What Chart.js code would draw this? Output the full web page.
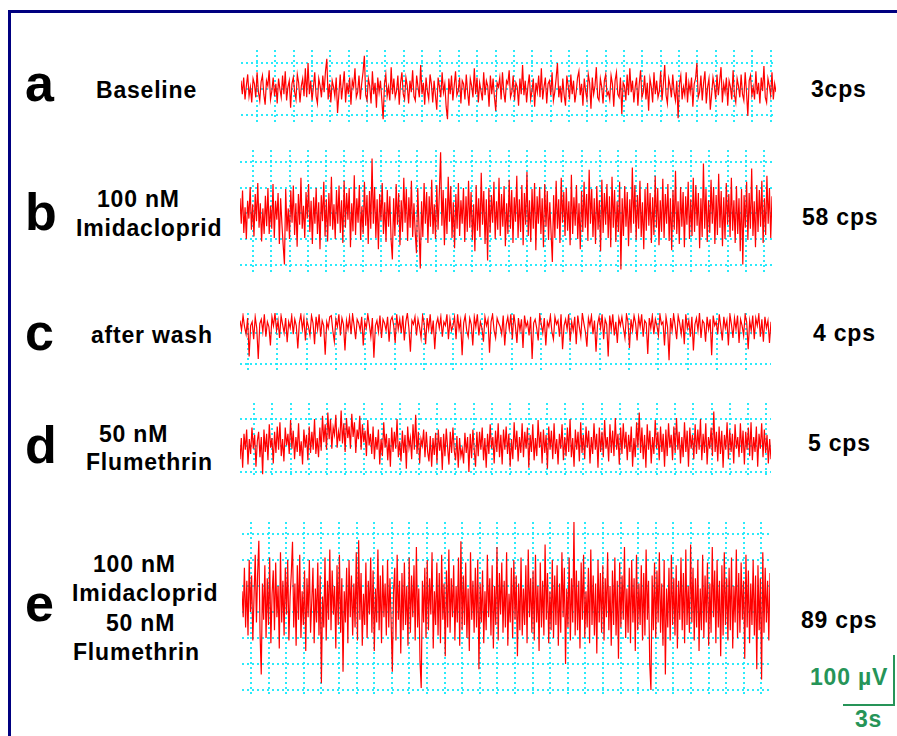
<!DOCTYPE html>
<html>
<head>
<meta charset="utf-8">
<script src="https://cdn.jsdelivr.net/npm/chart.js@4.4.1/dist/chart.umd.min.js"></script>
<style>
  html, body { margin:0; padding:0; background:#fff; }
  body { width:897px; height:736px; overflow:hidden; position:relative; font-family:"Liberation Sans", Arial, sans-serif; }
  .frame { position:absolute; left:8px; top:10px; width:1000px; height:1000px; border-left:3px solid #000080; border-top:3px solid #000080; }
  .t { position:absolute; white-space:nowrap; font-weight:bold; line-height:1; color:#000; }
  .lbl { font-size:23px; letter-spacing:0.8px; }
  .big { font-size:52px; }
  .green { color:rgb(38,148,88); }
  canvas { position:absolute; }
  .bar { position:absolute; background:rgb(38,148,88); }
</style>
</head>
<body>
<div class="frame"></div>
<script>
// ---- data (µV, relative to each panel's grid centre line) ----
const panelLetters = ["a", "b", "c", "d", "e"];
const panelLabels = [["Baseline"], ["100 nM", "Imidacloprid"], ["after wash"], ["50 nM", "Flumethrin"], ["100 nM", "Imidacloprid", "50 nM", "Flumethrin"]];
const panelRates = ["3cps", "58 cps", "4 cps", "5 cps", "89 cps"];
const scaleBarLabels = ["100 µV", "3s"];

const traceA = [16,-10,22,-20,6,28,-14,4,-26,20,10,-16,32,-6,-22,14,26,-10,-30,16,
 6,36,-20,-4,22,-14,10,-28,20,0,-16,26,-10,34,-22,4,16,-36,10,22,
 -6,-20,28,12,-26,6,20,-14,40,-16,50,-10,16,-22,4,32,-14,-28,20,6,
 -16,26,-6,34,58,-20,10,-26,16,4,-14,22,-46,-10,28,-20,6,34,-26,12,
 -10,22,-30,16,4,40,-16,-6,26,-20,10,32,64,-12,-22,20,6,-28,34,-10,
 12,-36,22,-6,16,-20,-58,10,28,-14,4,-22,42,-10,20,-16,-4,26,-30,12,
 32,-10,-20,22,6,-28,16,-6,36,-14,-22,26,4,-16,46,-10,12,-30,22,-4,
 -20,28,10,-26,16,-12,-40,22,4,-16,32,-6,10,-34,-58,20,-10,26,-22,6,
 34,-12,-4,22,-28,16,10,-20,28,-6,-32,20,6,-16,40,-10,22,-26,12,-4,
 -22,32,-12,16,6,-34,26,-10,20,-16,-42,12,4,22,-20,32,-6,-26,16,10,
 36,-16,-6,26,-22,12,4,-32,20,-10,46,-12,16,-26,6,28,-20,-4,20,-34,
 12,-6,26,-16,40,-20,4,22,-28,10,16,-12,32,-22,-6,20,50,-16,6,-26,
 20,-12,-32,26,6,-20,28,-10,16,-26,-6,22,34,-12,10,-32,20,-4,-20,28,
 12,-38,22,-10,6,42,-16,-22,20,4,-28,16,28,-12,-6,-20,26,10,-34,16,
 32,-10,-16,22,-48,12,6,-22,28,-12,40,-6,16,-26,4,22,-32,10,36,-16,
 -6,26,-20,12,-42,20,4,-26,32,-10,16,-16,-4,34,-22,10,46,-12,-28,20,
 6,-16,28,-6,-22,16,-56,10,26,-20,4,-12,32,-26,12,-6,22,-34,10,20,
 50,-16,-6,26,-22,12,34,-28,4,20,-40,-10,22,6,-20,28,-12,16,42,-26,
 10,-6,22,-32,16,4,-20,36,-12,-26,20,6,-16,28,-10,-22,32,-6,-52,16,
 26,-12,4,-20,34,-10,12,-28,22,-4,44,-16,-26,20,6,-12,32,-20,10,-6];

const traceB = [30,-20,45,-38,12,-50,25,-10,52,-32,18,-45,38,-15,60,-28,20,-55,10,-40,
 35,-25,50,-40,15,-30,58,-48,25,-12,40,-60,30,-20,-62,-100,48,-35,10,-50,
 45,-18,55,-42,20,-65,38,-22,70,-30,15,-48,42,-10,58,-36,25,-60,32,-20,
 50,-40,22,-70,36,-15,62,-45,28,-55,40,-25,72,-32,18,-50,46,-20,55,-38,
 26,-58,64,-28,40,-12,50,-66,20,-35,75,-42,30,-18,56,-52,14,-40,62,-24,
 36,-60,44,-30,108,-20,52,-48,28,-70,38,-14,60,-40,22,-56,46,-26,34,-52,
 -90,30,-44,58,-22,40,-62,26,-36,70,-18,48,-54,32,-28,64,-46,20,-38,-78,
 50,-30,-108,24,-46,60,-20,42,-58,34,-26,66,-40,18,-50,56,-32,40,120,-24,
 46,-62,30,-40,72,-16,54,-48,22,-68,38,-30,60,-44,26,-20,50,-56,34,-36,
 64,-28,42,-52,18,-74,56,-34,30,-46,80,-22,44,-60,28,-92,50,-38,36,-18,
 62,-50,24,-32,70,-44,38,-26,54,-64,20,-40,66,-30,46,-58,32,-16,74,-48,
 28,-36,56,-62,40,-22,82,-44,26,-56,48,-30,60,-72,34,-20,52,-40,30,-66,
 58,-26,44,-52,22,-38,-95,36,-48,64,-30,28,-58,70,-18,42,-44,50,-34,24,
 -62,76,-40,32,-24,56,-50,20,-70,44,-36,62,-28,38,-54,86,-20,48,-46,30,
 -60,54,-32,26,-74,66,-38,40,-22,58,-48,34,-66,72,-28,46,-56,24,-36,62,
 -110,30,-44,54,-26,42,-64,28,-38,90,-20,56,-52,36,-30,64,-46,22,-70,48,
 -34,60,-24,40,-58,32,-42,74,-28,50,-62,26,-36,68,-48,38,-20,58,-54,30,
 -72,46,-32,84,-40,24,-60,52,-26,42,-66,34,-22,62,-50,28,-44,70,-36,56,
 -24,40,-68,30,-46,98,-30,48,-56,26,-38,66,-20,52,-60,36,-42,78,-28,44,
 -64,32,-50,60,-22,38,-46,70,-34,26,-58,54,-40,30,-74,48,-100,36,-28,62,
 -52,40,-30,88,-44,24,-66,56,-36,46,-26,64,-58,30,-42,74,-20,50,-48,34];

const traceC = [20,5,28,10,-2,24,-38,12,18,-10,26,8,-42,15,22,2,30,-6,18,10,
 -20,26,12,32,4,20,-8,28,14,0,24,-15,18,8,28,-2,22,12,-25,16,
 30,6,24,-12,20,10,-4,28,16,-18,26,6,30,-6,20,12,-35,18,8,26,
 28,4,-14,22,10,30,-4,24,14,-28,20,6,26,-2,30,12,-10,22,16,4,
 26,-20,18,8,30,14,-6,24,-40,12,20,2,28,-8,22,16,4,26,-14,20,
 26,12,-16,30,6,22,0,28,-12,18,32,8,-30,20,14,26,-4,22,10,-8,
 28,16,-18,24,6,30,-2,20,-26,14,24,8,26,-6,18,12,30,-10,22,4,
 12,26,-10,30,6,20,-36,16,28,4,-6,24,14,-20,26,10,30,-4,18,8,
 -14,26,12,22,-32,18,30,4,-8,24,16,10,-2,28,-20,14,26,6,30,-10,
 30,12,-16,24,4,22,-24,28,10,18,-4,26,-42,16,22,8,-12,30,14,0,
 24,-20,18,10,28,2,-10,26,14,20,-6,30,-26,12,22,6,30,-14,18,4,
 26,-18,28,10,-6,32,16,2,-22,24,12,28,-2,20,-30,14,26,8,30,-10,
 22,14,-38,28,6,30,-4,18,-16,24,12,26,8,-8,30,18,-24,22,4,28,
 16,-12,26,10,30,-6,20,16,-34,24,8,28,-2,22,12,-4,30,14,18,-20,
 26,10,-44,24,4,30,12,-10,28,16,-2,22,-18,30,8,20,-6,26,-28,14,
 24,4,32,-8,20,16,-14,26,6,22,-36,28,12,18,-2,30,10,-12,26,8,
 20,-20,30,14,-8,24,6,28,-16,22,12,-4,30,18,-26,20,4,28,-10,24,
 12,30,-6,22,-14,26,8,20,-16,18];

const traceD = [-26,14,-42,22,-8,30,-36,12,-16,34,-6,20,-40,8,26,-22,16,-54,30,-12,
 22,-28,40,-4,14,-34,26,-14,36,-8,44,-20,12,-30,34,0,22,-16,48,-6,
 28,-26,16,-12,42,-20,8,-36,30,-4,20,-28,36,-14,26,-8,50,-16,14,-22,
 34,-10,56,6,40,-8,62,12,50,-6,34,20,58,-4,26,8,66,4,42,-12,
 52,14,36,-6,60,16,44,-14,30,12,56,-8,40,6,28,-20,48,0,22,-16,
 36,-26,16,-8,30,-36,12,-20,44,-4,22,-28,14,-40,34,-12,26,-6,50,-22,
 8,-30,28,-14,20,-44,36,-4,14,-26,40,-8,58,-16,26,-34,12,0,30,-22,
 26,-12,-30,18,-40,14,-18,24,-34,30,-10,16,-46,22,-20,32,-4,-36,26,-14,
 34,-10,-28,18,-42,14,-20,-6,-34,24,-14,16,-50,22,-24,30,-8,-40,26,-20,
 26,-8,34,-28,14,-42,22,-16,40,-6,16,-34,28,-12,42,-22,20,-36,30,-8,
 36,-16,22,-40,12,-26,44,-8,28,-30,16,-14,42,-22,26,-6,34,-42,20,-12,
 40,-28,14,-20,48,-4,26,-34,30,-14,20,-44,36,-8,28,-26,42,-16,12,-36,
 22,-6,40,-28,16,-20,34,-12,50,-22,14,-40,30,-8,26,-30,44,-14,20,-26,
 36,-4,28,-34,16,-16,42,-8,22,-42,34,-12,26,-22,48,-6,16,-30,40,-14,
 28,-20,52,-8,22,-36,34,-16,42,-6,26,-28,20,-12,36,-40,14,-22,44,-4,
 62,-14,34,-26,20,-42,40,-8,28,-34,16,-16,48,-6,26,-28,36,-12,22,-40,
 30,-20,42,-4,20,-28,36,-14,52,-8,26,-34,16,-22,44,-12,28,-40,34,-6,
 20,-26,40,-16,30,-8,50,-28,22,-14,42,-36,16,-6,34,-20,64,-12,26,-30,
 36,-16,28,-42,20,-8,44,-26,30,-12,22,-34,40,-6,16,-22,42,-14,28,-36,
 26,-8,34,-20,44,-28,16,-12,36,-40,22,-6,42,-22,30,-14,20,-34,12,-26];

const traceE = [40,-10,85,-30,60,-45,100,0,70,-55,30,110,-20,75,137,-40,-120,55,-15,90,
 -50,65,-25,105,-60,35,80,-35,95,-10,50,-70,115,-20,60,-45,85,-5,100,-55,
 30,75,135,-30,55,-65,90,-15,110,-50,40,-25,80,-75,65,-10,100,-40,20,85,
 -60,45,-20,95,-45,70,-137,30,-30,105,-55,60,-15,120,-35,80,-5,50,-70,90,
 -25,110,-40,65,-115,40,-20,85,-60,100,-10,70,-45,55,-30,115,-55,138,-15,75,
 -65,35,-25,95,-50,60,-5,105,-40,80,-75,45,-20,120,-35,70,-60,90,-10,55,
 -45,100,-30,65,-20,-115,40,85,-55,110,-15,60,-80,75,-35,95,-25,50,-65,105,
 -40,70,-10,90,-55,125,-30,45,-95,-146,60,-20,85,-50,100,-35,65,-5,115,-70,
 40,-25,95,-45,75,-60,110,-15,55,-85,80,-30,120,-40,65,-10,90,-55,50,-20,
 105,-65,136,-35,70,-25,95,-50,45,-75,115,-15,60,-40,85,-30,100,-110,55,-20,
 80,-60,40,-35,110,-10,65,-45,90,-70,50,-25,125,-55,75,-5,95,-40,60,-30,
 115,-65,35,-20,85,-50,100,-15,70,-85,55,-35,105,-45,45,-25,90,-60,120,-10,
 65,-40,80,-55,110,-20,50,-75,95,-30,60,-45,130,-15,75,-60,40,-35,100,-50,
 70,-25,90,-65,55,-40,115,-10,85,-100,45,-30,105,-55,65,-20,173,-45,80,-35,
 60,-70,95,-15,110,-50,40,-30,85,-60,120,-25,70,-45,55,-80,100,-20,75,-40,
 90,-55,65,-10,115,-35,50,-65,80,-25,105,-45,60,-90,95,-30,70,-15,125,-50,
 45,-40,85,-60,100,-20,65,-75,110,-35,55,-25,90,-55,75,-45,120,-15,60,-100,
 -150,70,-35,95,-50,80,-20,115,-40,55,-65,100,-120,45,-30,85,-55,110,-25,65,
 -45,90,-70,60,-15,105,-35,75,-60,120,-25,50,-40,130,-20,85,-55,65,-30,100,
 -75,45,-35,110,-50,70,-20,95,-65,55,-40,125,-10,80,-60,100,-30,60,-85,90,
 -45,115,-25,65,-55,85,-35,105,-70,50,-20,120,-50,75,-40,95,-15,60,-90,110,
 -30,80,-60,55,-25,100,-45,70,-110,90,-35,65,-130,115,-40,85,-20,60,-55,75];

const traces = [traceA, traceB, traceC, traceD, traceE];
const gridLevels = [[-50,0,50], [-100,-50,0,50,100], [-50,0], [-50,0,50], [-150,-100,-50,0,50,100,150]];

// ---- layout (pixels) ----
const layout = [
  {left:241, right:776, top:50,  bottom:123, cy:89,    ppu:0.52, vx0:257, vdx:18.35, letterBase:101, rateBase:97,  rateLeft:811,
   labels:[{l:96, b:98}]},
  {left:240, right:772, top:150, bottom:272, cy:213.5, ppu:0.51, vx0:253, vdx:18.25, letterBase:230, rateBase:225, rateLeft:802,
   labels:[{l:97, b:207},{l:76, b:236}]},
  {left:240, right:771, top:313, bottom:372, cy:333,   ppu:0.62, vx0:248, vdx:29.3,  letterBase:350, rateBase:341, rateLeft:813,
   labels:[{l:91, b:343}]},
  {left:240, right:771, top:403, bottom:478, cy:445.5, ppu:0.53, vx0:254, vdx:18.3,  letterBase:463, rateBase:451, rateLeft:808,
   labels:[{l:99, b:442},{l:86, b:470}]},
  {left:242, right:770, top:522, bottom:694, cy:612,   ppu:0.52, vx0:251, vdx:17.6,  letterBase:621, rateBase:628, rateLeft:801,
   labels:[{l:93, b:572},{l:72, b:601},{l:106, b:631},{l:73, b:660}]}
];

function addText(txt, cls, left, baseline, fs) {
  const d = document.createElement('div');
  d.className = 't ' + cls;
  d.textContent = txt;
  d.style.left = left + 'px';
  d.style.top = (baseline - 0.8465 * fs) + 'px';
  document.body.appendChild(d);
}

const gridColor = 'rgba(20,232,250,0.9)';

panelLetters.forEach((letter, i) => {
  const L = layout[i];
  const data = traces[i];
  const w = L.right - L.left, h = L.bottom - L.top;
  const cv = document.createElement('canvas');
  cv.width = w; cv.height = h;
  cv.style.left = L.left + 'px'; cv.style.top = L.top + 'px';
  cv.style.width = w + 'px'; cv.style.height = h + 'px';
  document.body.appendChild(cv);

  const n = data.length;
  const xTicks = [];
  for (let px = L.vx0 - L.left; px < w - 1; px += L.vdx) xTicks.push(px / w * (n - 1));

  new Chart(cv.getContext('2d'), {
    type: 'line',
    data: {
      labels: data.map((_, k) => k),
      datasets: [{
        data: data.map((v, k) => ({x:k, y:v})),
        borderColor: 'rgb(255,0,0)',
        borderWidth: 1.2,
        pointRadius: 0,
        tension: 0,
        fill: false
      }]
    },
    options: {
      responsive: false,
      animation: false,
      devicePixelRatio: 1,
      layout: { padding: 0 },
      plugins: { legend: { display:false }, tooltip: { enabled:false } },
      scales: {
        x: {
          type: 'linear', min: 0, max: n - 1,
          ticks: { display:false },
          grid: { color: gridColor, lineWidth: 2, drawTicks:false },
          border: { display:false, dash:[2,3] },
          afterBuildTicks: s => { s.ticks = xTicks.map(v => ({value:v})); }
        },
        y: {
          type: 'linear',
          min: -(L.bottom - L.cy) / L.ppu,
          max: (L.cy - L.top) / L.ppu,
          ticks: { display:false },
          grid: { color: gridColor, lineWidth: 2, drawTicks:false },
          border: { display:false, dash:[2,3] },
          afterBuildTicks: s => { s.ticks = gridLevels[i].map(v => ({value:v})); }
        }
      }
    }
  });

  addText(letter, 'big', 25, L.letterBase, 52);
  panelLabels[i].forEach((txt, j) => addText(txt, 'lbl', L.labels[j].l, L.labels[j].b, 23));
  addText(panelRates[i], 'lbl', L.rateLeft, L.rateBase, 23);
});

// scale bar
addText(scaleBarLabels[0], 'lbl green', 810, 685, 23);
addText(scaleBarLabels[1], 'lbl green', 855, 727, 23);
const vb = document.createElement('div'); vb.className = 'bar';
vb.style.cssText += 'left:893px;top:655px;width:2px;height:51px;';
document.body.appendChild(vb);
const hb = document.createElement('div'); hb.className = 'bar';
hb.style.cssText += 'left:843px;top:704px;width:52px;height:2px;';
document.body.appendChild(hb);
</script>
</body>
</html>
